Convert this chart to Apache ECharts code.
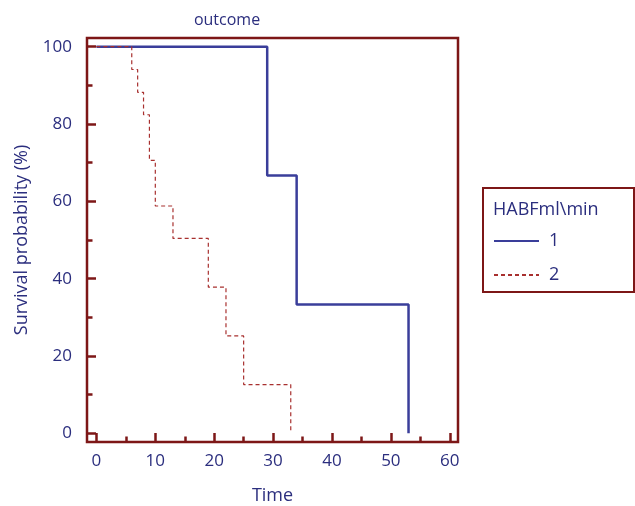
<!DOCTYPE html>
<html>
<head>
<meta charset="utf-8">
<script src="https://cdn.jsdelivr.net/npm/echarts@6/dist/echarts.min.js"></script>
<style>
html, body { margin: 0; padding: 0; background: #fff; }
#chart { width: 635px; height: 506px; }
</style>
</head>
<body>
<div id="chart"></div>
<script>
// Kaplan-Meier steps
const group1Time = [0, 29, 34, 53];
const group1Surv = [100, 66.7, 33.3, 0];
const group2Time = [0, 6, 7, 8, 9, 10, 13, 19, 22, 25, 33];
const group2Surv = [100, 94.1, 88.2, 82.4, 70.6, 58.8, 50.4, 37.8, 25.2, 12.6, 0];

const xMajor = [0, 10, 20, 30, 40, 50, 60];
const xMinor = [5, 15, 25, 35, 45, 55];
const yMajor = [0, 20, 40, 60, 80, 100];
const yMinor = [10, 30, 50, 70, 90];

const seriesNames = ['1', '2'];
const legendTitle = 'HABFml\\min';

const TEXT = '#2b2e7e';
const FRAME = '#7d1717';
const FONT = 'Open Sans';

const pairs = (xs, ys) => xs.map((x, i) => [x, ys[i]]);

const chart = echarts.init(document.getElementById('chart'));

const xBase = {
    type: 'value', min: -1.6, max: 61.4,
    position: 'bottom',
    splitLine: { show: false },
    axisLine: { show: false, onZero: false }
};
const yBase = {
    type: 'value', min: -2.25, max: 102.25,
    position: 'left',
    splitLine: { show: false },
    axisLine: { show: false, onZero: false }
};

chart.setOption({
    animation: false,
    textStyle: { fontFamily: FONT },
    title: [
        {
            text: 'outcome',
            left: 222, top: 7, textAlign: 'center',
            textStyle: { color: TEXT, fontSize: 16, fontWeight: 'normal', fontFamily: FONT }
        },
        {
            text: legendTitle,
            left: 493, top: 201,
            padding: 0,
            textStyle: { color: TEXT, fontSize: 18, fontWeight: 'normal', fontFamily: FONT }
        }
    ],
    grid: {
        left: 87, top: 38, right: 177, bottom: 64,
        show: true,
        borderColor: FRAME, borderWidth: 2.5,
        containLabel: false,
        outerBoundsMode: 'none'
    },
    xAxis: [
        Object.assign({}, xBase, {
            name: 'Time', nameLocation: 'middle', nameGap: 45,
            nameTextStyle: { color: TEXT, fontSize: 18, fontFamily: FONT },
            axisTick: { show: true, inside: true, length: 9, customValues: xMajor,
                lineStyle: { color: FRAME, width: 2.5 } },
            axisLabel: { show: true, customValues: xMajor, margin: 11,
                color: TEXT, fontSize: 17, fontFamily: FONT }
        }),
        Object.assign({}, xBase, {
            axisTick: { show: true, inside: true, length: 5.5, customValues: xMinor,
                lineStyle: { color: FRAME, width: 2.5 } },
            axisLabel: { show: false, customValues: xMinor }
        })
    ],
    yAxis: [
        Object.assign({}, yBase, {
            name: 'Survival probability (%)', nameLocation: 'middle', nameGap: 56,
            nameTextStyle: { color: TEXT, fontSize: 18, fontFamily: FONT },
            axisTick: { show: true, inside: true, length: 9, customValues: yMajor,
                lineStyle: { color: FRAME, width: 2.5 } },
            axisLabel: { show: true, customValues: yMajor, margin: 15,
                color: TEXT, fontSize: 17, fontFamily: FONT }
        }),
        Object.assign({}, yBase, {
            axisTick: { show: true, inside: true, length: 5.5, customValues: yMinor,
                lineStyle: { color: FRAME, width: 2.5 } },
            axisLabel: { show: false, customValues: yMinor }
        })
    ],
    legend: {
        orient: 'vertical',
        left: 493, top: 232,
        padding: 0,
        itemWidth: 45, itemHeight: 14, itemGap: 16,
        itemStyle: { opacity: 0 },
        textStyle: { color: TEXT, fontSize: 18, fontFamily: FONT, padding: [0, 0, 0, 5] },
        data: seriesNames
    },
    graphic: [
        {
            type: 'rect',
            shape: { x: 483, y: 188, width: 151, height: 104 },
            style: { fill: 'none', stroke: FRAME, lineWidth: 2 },
            z: 10
        }
    ],
    series: [
        {
            name: seriesNames[0], type: 'line', step: 'end',
            symbol: 'none', z: 3,
            lineStyle: { color: '#3a3e9a', width: 2.5 },
            itemStyle: { color: '#3a3e9a' },
            data: pairs(group1Time, group1Surv)
        },
        {
            name: seriesNames[1], type: 'line', step: 'end',
            symbol: 'none', z: 4,
            lineStyle: { color: '#a8302f', width: 1.2, type: [4, 3] },
            itemStyle: { color: '#a8302f' },
            data: pairs(group2Time, group2Surv)
        }
    ]
});
</script>
</body>
</html>
